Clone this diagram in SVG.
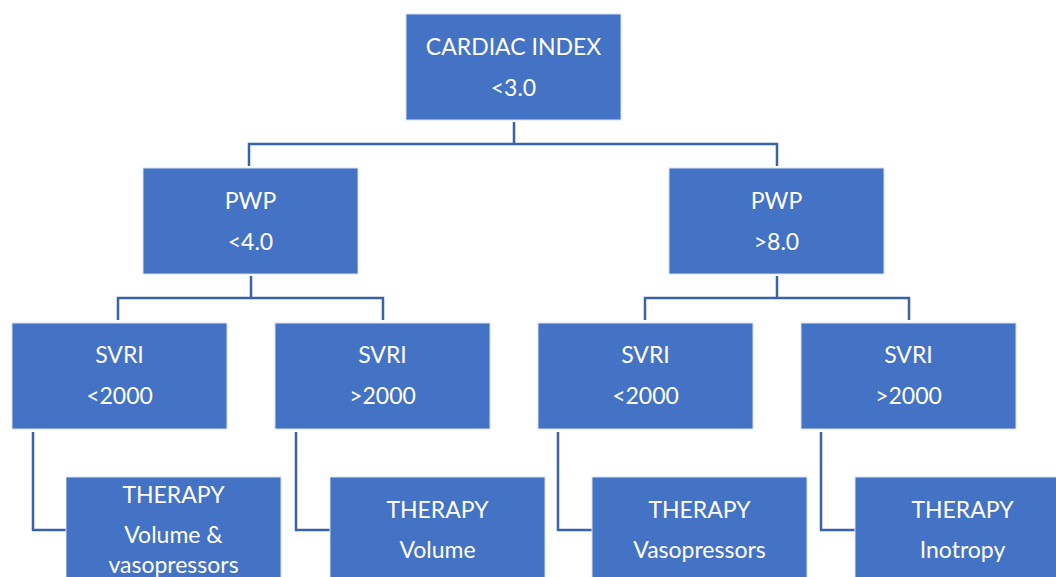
<svg xmlns="http://www.w3.org/2000/svg" width="1056" height="577" viewBox="0 0 1056 577">
<style>
.box{fill:#4472C4;stroke:#D6E0F2;stroke-width:1}
.t{font-family:Lato,"Open Sans","Liberation Sans",sans-serif;font-size:23px;fill:#FFFFFF;text-anchor:middle}
.c{fill:none;stroke:#3A62A8;stroke-width:2.5}
</style>
<rect width="1056" height="577" fill="#FFFFFF"/>
<g id="connectors">
<path class="c" d="M514,122 V144 M249,166 V144 H777 V166"/>
<path class="c" d="M251,276 V298 M118,320 V298 H383 V320"/>
<path class="c" d="M777,276 V298 M645,320 V298 H909 V320"/>
<path class="c" d="M33,432 V530 H66"/>
<path class="c" d="M296,432 V530 H330"/>
<path class="c" d="M558,432 V530 H592"/>
<path class="c" d="M821,432 V530 H855"/>
</g>
<g id="cardiac">
<rect class="box" x="406" y="14" width="215" height="106"/>
<text class="t" x="513.5" y="55">CARDIAC INDEX</text>
<text class="t" x="513.5" y="96">&lt;3.0</text>
</g>
<g id="pwp-low">
<rect class="box" x="143" y="168" width="215" height="106"/>
<text class="t" x="250.5" y="209">PWP</text>
<text class="t" x="250.5" y="250">&lt;4.0</text>
</g>
<g id="pwp-high">
<rect class="box" x="669" y="168" width="215" height="106"/>
<text class="t" x="776.5" y="209">PWP</text>
<text class="t" x="776.5" y="250">&gt;8.0</text>
</g>
<g id="svri-1">
<rect class="box" x="12" y="323" width="215" height="106"/>
<text class="t" x="119.5" y="363">SVRI</text>
<text class="t" x="119.5" y="404">&lt;2000</text>
</g>
<g id="svri-2">
<rect class="box" x="275" y="323" width="215" height="106"/>
<text class="t" x="382.5" y="363">SVRI</text>
<text class="t" x="382.5" y="404">&gt;2000</text>
</g>
<g id="svri-3">
<rect class="box" x="538" y="323" width="215" height="106"/>
<text class="t" x="645.5" y="363">SVRI</text>
<text class="t" x="645.5" y="404">&lt;2000</text>
</g>
<g id="svri-4">
<rect class="box" x="801" y="323" width="215" height="106"/>
<text class="t" x="908.5" y="363">SVRI</text>
<text class="t" x="908.5" y="404">&gt;2000</text>
</g>
<g id="therapy-1">
<rect class="box" x="66" y="477" width="215" height="106"/>
<text class="t" x="173.5" y="503">THERAPY</text>
<text class="t" x="173.5" y="543">Volume &amp;</text>
<text class="t" x="173.5" y="573">vasopressors</text>
</g>
<g id="therapy-2">
<rect class="box" x="330" y="477" width="215" height="106"/>
<text class="t" x="437.5" y="518">THERAPY</text>
<text class="t" x="437.5" y="558">Volume</text>
</g>
<g id="therapy-3">
<rect class="box" x="592" y="477" width="215" height="106"/>
<text class="t" x="699.5" y="518">THERAPY</text>
<text class="t" x="699.5" y="558">Vasopressors</text>
</g>
<g id="therapy-4">
<rect class="box" x="855" y="477" width="215" height="106"/>
<text class="t" x="962.5" y="518">THERAPY</text>
<text class="t" x="962.5" y="558">Inotropy</text>
</g>
</svg>
